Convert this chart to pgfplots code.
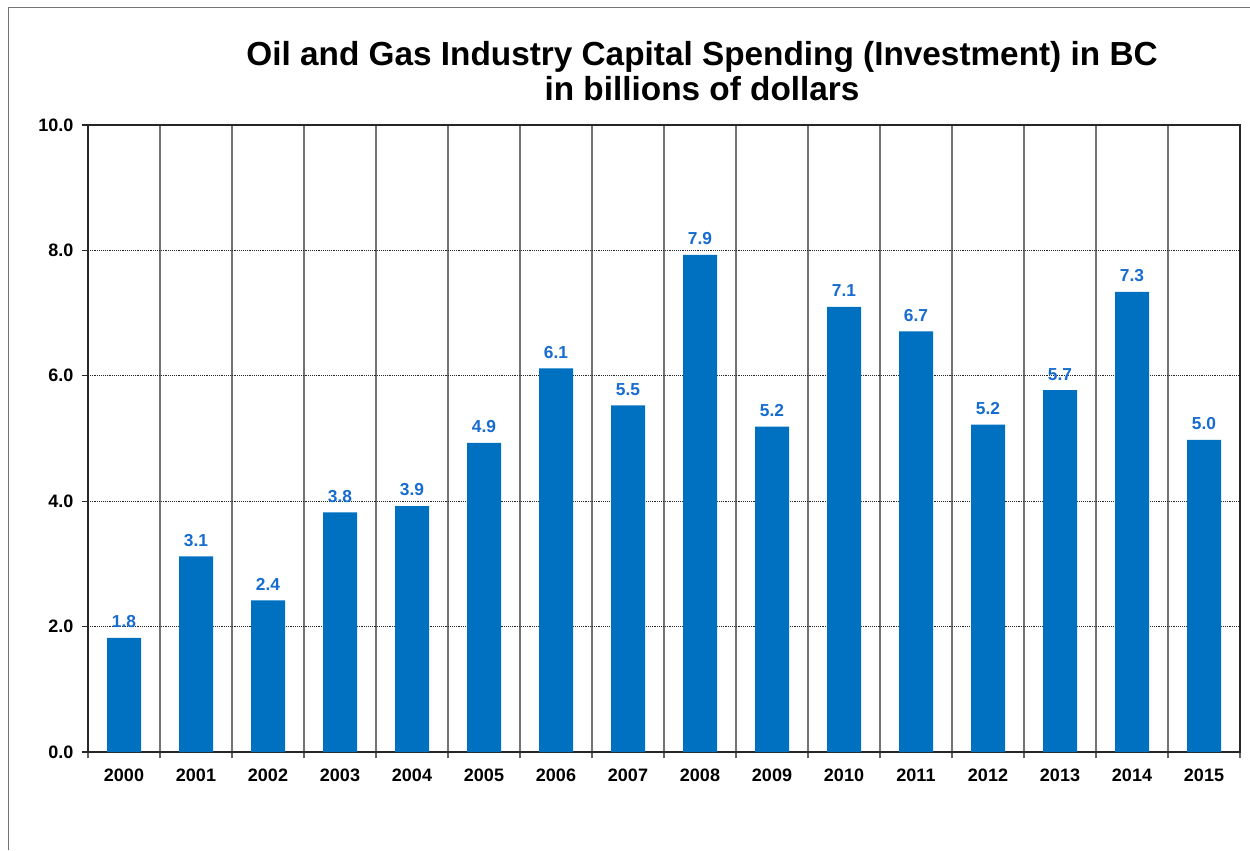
\documentclass[border=0pt]{standalone}
\usepackage{fontspec}
\setmainfont{Liberation Sans}
\usepackage{pgfplots}
\usepackage{pgfplotstable}
\pgfplotsset{compat=1.18}
\definecolor{barblue}{RGB}{0,112,192}
\definecolor{lblblue}{RGB}{22,108,208}
\pgfplotstableread{
x y lab
0 1.82 1.8
1 3.12 3.1
2 2.42 2.4
3 3.82 3.8
4 3.92 3.9
5 4.93 4.9
6 6.12 6.1
7 5.53 5.5
8 7.93 7.9
9 5.19 5.2
10 7.10 7.1
11 6.71 6.7
12 5.22 5.2
13 5.77 5.7
14 7.34 7.3
15 4.98 5.0
}\data
\begin{document}
\begin{tikzpicture}
\path[use as bounding box] (0pt,0pt) rectangle (937.5pt,637.5pt);
\draw[black!55, line width=0.75pt] (6pt,0pt) -- (6pt,631.5pt) -- (937.5pt,631.5pt);
\begin{axis}[
  at={(66pt,73.5pt)}, anchor=south west,
  scale only axis, width=864pt, height=470.25pt,
  xmin=-0.5, xmax=15.5, ymin=0, ymax=10,
  ybar, bar width=25.5pt,
  axis line style={black!85, line width=0.9pt},
  xtick={0,...,15},
  xticklabels={2000,2001,2002,2003,2004,2005,2006,2007,2008,2009,2010,2011,2012,2013,2014,2015},
  minor xtick={-0.5,0.5,...,15.5},
  xminorgrids=true,
  minor x grid style={black!55, line width=0.9pt},
  major x tick style={draw=none},
  minor x tick style={black!60, line width=0.9pt},
  minor tick length=4.5pt,
  major tick length=4.5pt,
  tick align=outside,
  xtick pos=bottom, ytick pos=left,
  ytick={0,2,...,10},
  ymajorgrids=true,
  major y grid style={densely dotted, black!85, line width=0.6pt},
  major y tick style={black!85, line width=0.9pt},
  yticklabel style={xshift=-3pt, /pgf/number format/.cd, fixed, fixed zerofill, precision=1},
  /pgf/number format/assume math mode=true,
  tick label style={font=\bfseries\fontsize{13.5}{16}\selectfont, text=black},
  xticklabel style={yshift=-4.5pt},
  title={Oil and Gas Industry Capital Spending (Investment) in BC\\in billions of dollars},
  title style={at={(axis description cs:0.533,1)}, anchor=south, align=center, inner sep=0pt, yshift=12pt,
    font=\bfseries\fontsize{25}{26.5}\selectfont},
  nodes near coords,
  point meta=explicit symbolic,
  every node near coord/.append style={font=\bfseries\fontsize{13}{15}\selectfont, text=lblblue, yshift=4pt},
]
\addplot[fill=barblue, draw=none] table[x=x, y=y, meta=lab] {\data};
\end{axis}
\end{tikzpicture}
\end{document}
